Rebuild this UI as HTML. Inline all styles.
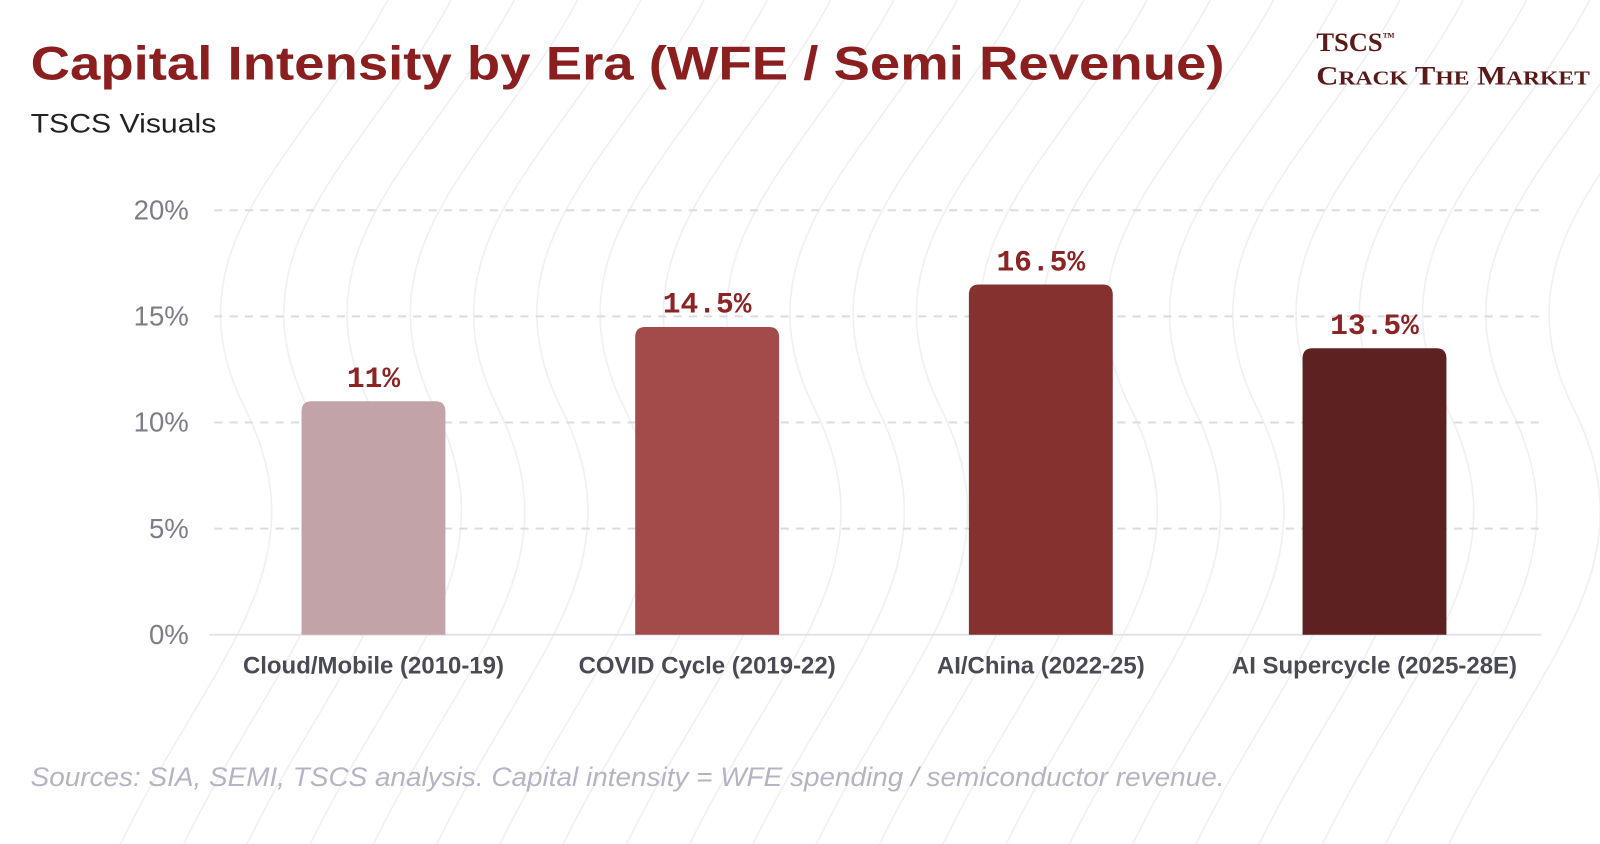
<!DOCTYPE html>
<html><head><meta charset="utf-8"><style>
html,body{margin:0;padding:0;background:#fff;}
svg{display:block;font-family:"Liberation Sans",sans-serif;}
</style></head><body>
<svg id="chart" width="1600" height="844" viewBox="0 0 1568 827" xmlns="http://www.w3.org/2000/svg">
<g id="bg" fill="none" stroke="#f0eff3" stroke-width="1.6"></g>
<text x="30" y="78" font-size="46" font-weight="bold" fill="#8b1f1f" textLength="1170" lengthAdjust="spacingAndGlyphs">Capital Intensity by Era (WFE / Semi Revenue)</text>
<text x="30" y="130" font-size="26" fill="#222" textLength="182" lengthAdjust="spacingAndGlyphs">TSCS Visuals</text>
<text x="1290" y="50" font-family="Liberation Serif,serif" font-size="26" font-weight="bold" fill="#5a1a1a">TSCS<tspan font-size="12" dy="-10">™</tspan></text>
<text x="1290" y="83" font-family="Liberation Serif,serif" font-size="26" font-weight="bold" fill="#5a1a1a" textLength="268" lengthAdjust="spacingAndGlyphs">C<tspan font-size="20">RACK</tspan> T<tspan font-size="20">HE</tspan> M<tspan font-size="20">ARKET</tspan></text>
<g id="grid"></g>
<g id="yaxis"></g>
<g id="bars"></g>
<g id="xaxis"></g>
<text x="30" y="770" font-size="26" font-style="italic" fill="#b4b4c4" textLength="1170" lengthAdjust="spacingAndGlyphs">Sources: SIA, SEMI, TSCS analysis. Capital intensity = WFE spending / semiconductor revenue.</text>
</svg>
<script>
const categories = ["Cloud/Mobile (2010-19)","COVID Cycle (2019-22)","AI/China (2022-25)","AI Supercycle (2025-28E)"];
const values = [11, 14.5, 16.5, 13.5];
const valueLabels = ["11%","14.5%","16.5%","13.5%"];
const yTicks = [0,5,10,15,20];
const yTickLabels = ["0%","5%","10%","15%","20%"];
const colors = ["#c2a3a8","#a34a4a","#843130","#5c2120"];

const NS="http://www.w3.org/2000/svg";
const x0=202.5,x1=1510.5,y0=622,yTop=206,vmax=20;
const y=v=>y0-(v/vmax)*(y0-yTop);
const band=(x1-x0)/categories.length;
const xc=i=>x0+band*(i+0.5);
function mk(t,a,p){const e=document.createElementNS(NS,t);for(const k in a)e.setAttribute(k,a[k]);(p||document.getElementById('chart')).appendChild(e);return e;}

const bg=document.getElementById('bg');
for(let k=0;k<22;k++){
  const bx=260+k*62;
  const p=mk('path',{d:`M${bx-150} 844 C ${bx-60} 650, ${bx+60} 560, ${bx-20} 400 S ${bx+40} 150, ${bx+120} 0`},bg);
  
  
}

const grid=document.getElementById('grid'), ya=document.getElementById('yaxis');
yTicks.forEach((t,i)=>{
  if(t>0){const l=mk('line',{x1:210,x2:x1,y1:y(t),y2:y(t),stroke:"#dcdbe3","stroke-width":2,"stroke-dasharray":"8 7"},grid);
  
  }
  const tx=mk('text',{x:185,y:y(t)+9,"text-anchor":"end","font-size":27,fill:"#7d7d8a"},ya);
  tx.textContent=yTickLabels[i];
  
  
});
const base=mk('line',{x1:205,x2:x1,y1:y0,y2:y0,stroke:"#e4e3ea","stroke-width":2},grid);



const bars=document.getElementById('bars'), xa=document.getElementById('xaxis');
const bw=141,r=10;
categories.forEach((c,i)=>{
  const cx=xc(i), top=y(values[i]);
  const p=mk('path',{d:`M${cx-bw/2} ${y0} V${top+r} Q${cx-bw/2} ${top} ${cx-bw/2+r} ${top} H${cx+bw/2-r} Q${cx+bw/2} ${top} ${cx+bw/2} ${top+r} V${y0} Z`,fill:colors[i]},bars);
  
  
  const vl=mk('text',{x:cx,y:top-14,"text-anchor":"middle","font-family":"Liberation Mono,monospace","font-size":29,"font-weight":"bold",fill:"#8b2424"},bars);
  vl.textContent=valueLabels[i];
  
  
  const cl=mk('text',{x:cx,y:660,"text-anchor":"middle","font-size":23.5,"font-weight":"bold",fill:"#4a4a55"},xa);
  cl.textContent=c;
  
  
});
</script>
</body></html>
